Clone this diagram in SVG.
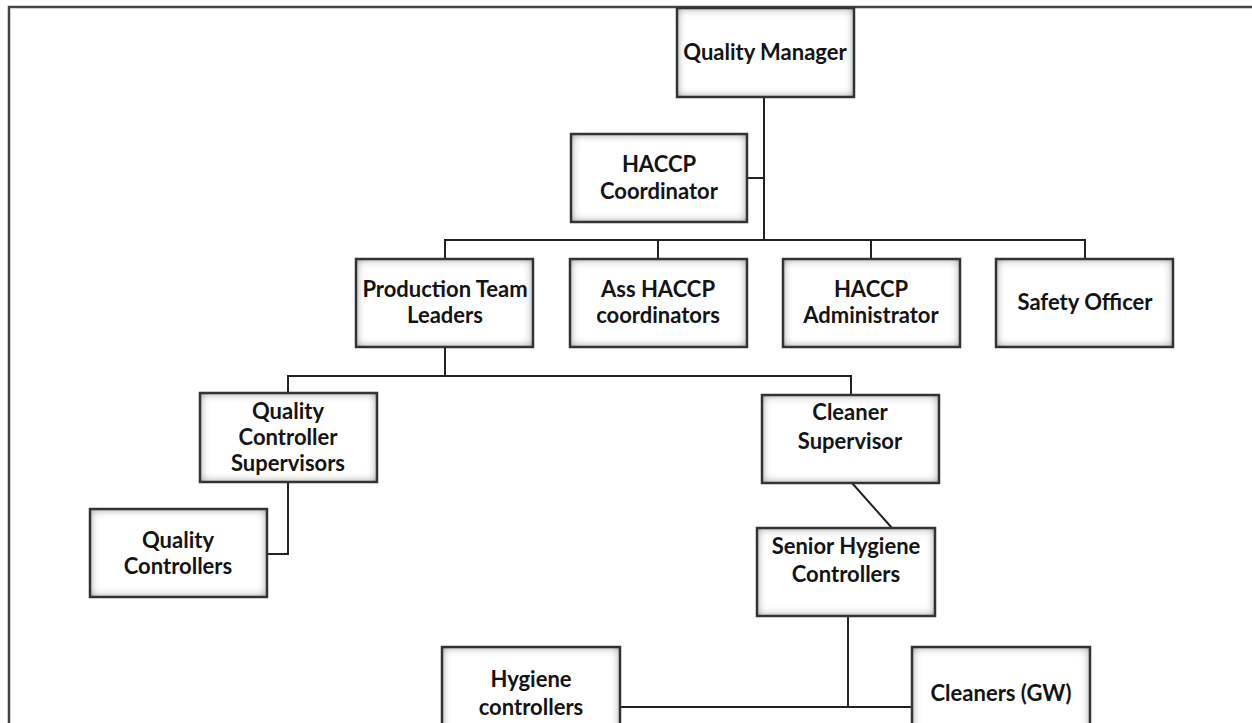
<svg xmlns="http://www.w3.org/2000/svg" width="1252" height="723" viewBox="0 0 1252 723">
<style>
.box{fill:#fff;filter:url(#inner)}
.bd{fill:none;stroke:#333;stroke-width:2.5}
.t{font-family:Lato,"Open Sans","Liberation Sans",sans-serif;font-weight:bold;font-size:22px;fill:#141414;text-anchor:middle}
.c{fill:none;stroke:#222;stroke-width:2}
.frame{fill:none;stroke:#444;stroke-width:2.5}
</style>
<defs>
<filter id="inner" x="-10%" y="-10%" width="120%" height="120%">
<feFlood flood-color="#555" result="f"/>
<feComposite in="f" in2="SourceAlpha" operator="out" result="o"/>
<feGaussianBlur in="o" stdDeviation="5" result="b"/>
<feComposite in="b" in2="SourceAlpha" operator="in" result="s"/>
<feMerge><feMergeNode in="SourceGraphic"/><feMergeNode in="s"/></feMerge>
</filter>
</defs>
<rect width="1252" height="723" fill="#fff"/>
<path class="frame" d="M9,723 V7 H1252"/>
<g id="connectors">
<path class="c" d="M764,97 V240"/>
<path class="c" d="M747,178 H764"/>
<path class="c" d="M445,259 V240 H1085 V259"/>
<path class="c" d="M658,240 V259"/>
<path class="c" d="M871,240 V259"/>
<path class="c" d="M445,347 V376"/>
<path class="c" d="M288,393 V376 H851 V395"/>
<path class="c" d="M288,482 V554 H267"/>
<path class="c" d="M852,483 L892,528"/>
<path class="c" d="M848,616 V707"/>
<path class="c" d="M620,707 H912"/>
</g>
<g id="quality-manager">
<rect class="box" x="677" y="8" width="177" height="89"/><rect class="bd" x="677" y="8" width="177" height="89"/>
<text class="t" x="765" y="60">Quality Manager</text>
</g>
<g id="haccp-coordinator">
<rect class="box" x="571" y="134" width="176" height="88"/><rect class="bd" x="571" y="134" width="176" height="88"/>
<text class="t" x="659" y="172">HACCP</text><text class="t" x="659" y="199">Coordinator</text>
</g>
<g id="production-team-leaders">
<rect class="box" x="356" y="259" width="177" height="88"/><rect class="bd" x="356" y="259" width="177" height="88"/>
<text class="t" x="445" y="297">Production Team</text><text class="t" x="445" y="323">Leaders</text>
</g>
<g id="ass-haccp-coordinators">
<rect class="box" x="570" y="259" width="177" height="88"/><rect class="bd" x="570" y="259" width="177" height="88"/>
<text class="t" x="658" y="297">Ass HACCP</text><text class="t" x="658" y="323">coordinators</text>
</g>
<g id="haccp-administrator">
<rect class="box" x="783" y="259" width="177" height="88"/><rect class="bd" x="783" y="259" width="177" height="88"/>
<text class="t" x="871" y="297">HACCP</text><text class="t" x="871" y="323">Administrator</text>
</g>
<g id="safety-officer">
<rect class="box" x="996" y="259" width="177" height="88"/><rect class="bd" x="996" y="259" width="177" height="88"/>
<text class="t" x="1085" y="310">Safety Officer</text>
</g>
<g id="quality-controller-supervisors">
<rect class="box" x="200" y="393" width="177" height="89"/><rect class="bd" x="200" y="393" width="177" height="89"/>
<text class="t" x="288" y="419">Quality</text><text class="t" x="288" y="445">Controller</text><text class="t" x="288" y="471">Supervisors</text>
</g>
<g id="quality-controllers">
<rect class="box" x="90" y="509" width="177" height="88"/><rect class="bd" x="90" y="509" width="177" height="88"/>
<text class="t" x="178" y="548">Quality</text><text class="t" x="178" y="574">Controllers</text>
</g>
<g id="cleaner-supervisor">
<rect class="box" x="762" y="395" width="177" height="88"/><rect class="bd" x="762" y="395" width="177" height="88"/>
<text class="t" x="850" y="420">Cleaner</text><text class="t" x="850" y="449">Supervisor</text>
</g>
<g id="senior-hygiene-controllers">
<rect class="box" x="757" y="528" width="178" height="88"/><rect class="bd" x="757" y="528" width="178" height="88"/>
<text class="t" x="846" y="554">Senior Hygiene</text><text class="t" x="846" y="582">Controllers</text>
</g>
<g id="hygiene-controllers">
<rect class="box" x="442" y="647" width="178" height="90"/><rect class="bd" x="442" y="647" width="178" height="90"/>
<text class="t" x="531" y="687">Hygiene</text><text class="t" x="531" y="715">controllers</text>
</g>
<g id="cleaners-gw">
<rect class="box" x="912" y="647" width="178" height="90"/><rect class="bd" x="912" y="647" width="178" height="90"/>
<text class="t" x="1001" y="701">Cleaners (GW)</text>
</g>
</svg>
